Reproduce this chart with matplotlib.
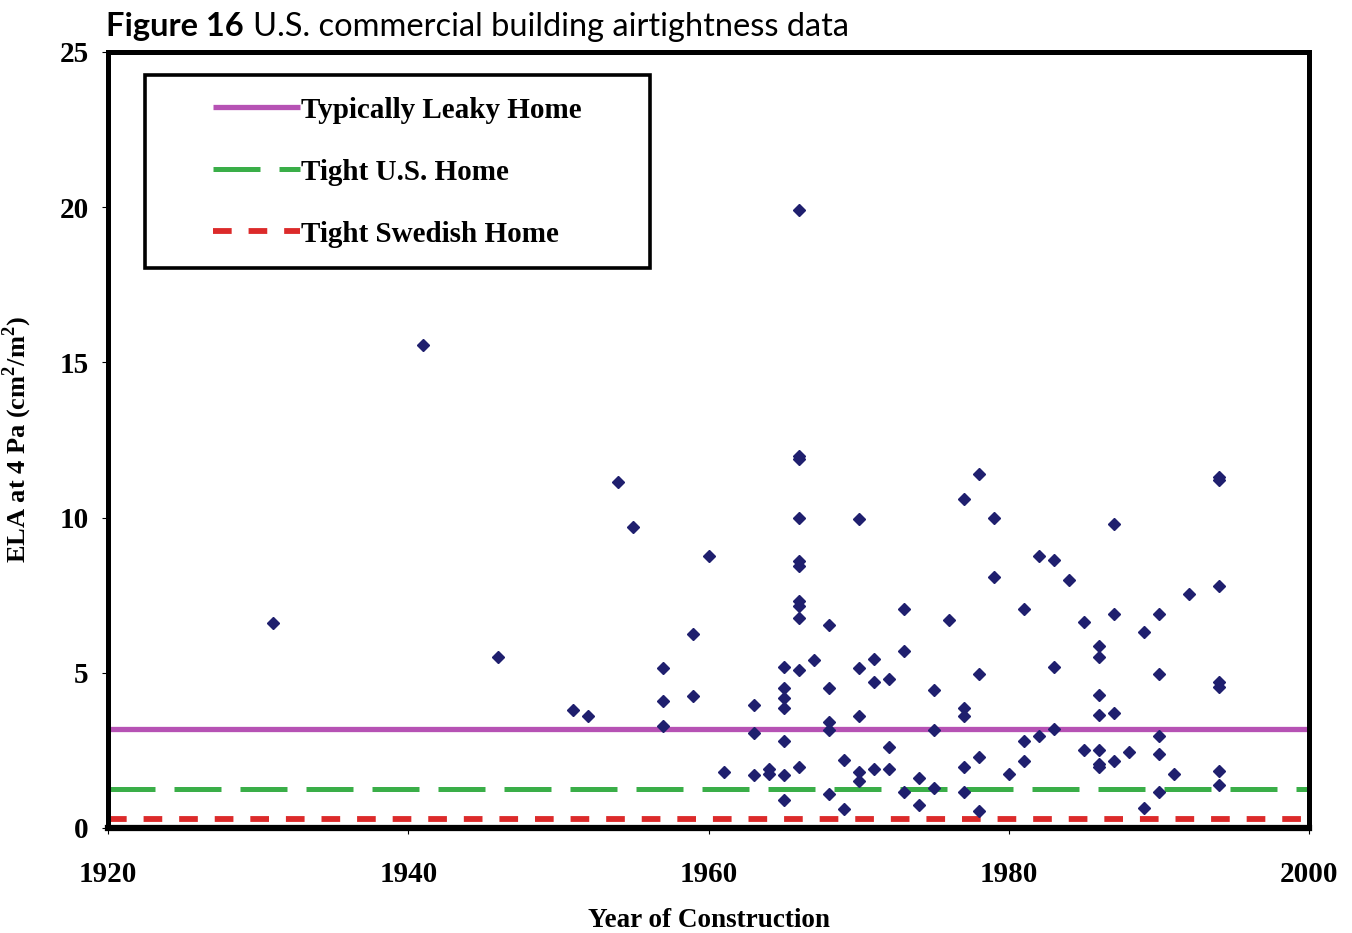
import matplotlib
matplotlib.use('Agg')
import matplotlib.pyplot as plt
from matplotlib.patches import Rectangle

# measured buildings (year of construction, ELA at 4 Pa in cm2/m2)
year = [1931, 1941, 1946, 1951, 1952, 1954, 1955,
        1957, 1957, 1957, 1959, 1959, 1960, 1961,
        1963, 1963, 1963, 1964, 1964,
        1965, 1965, 1965, 1965, 1965, 1965, 1965,
        1966, 1966, 1966, 1966, 1966, 1966, 1966, 1966, 1966, 1966, 1966,
        1967, 1968, 1968, 1968, 1968, 1968, 1969, 1969,
        1970, 1970, 1970, 1970, 1970, 1971, 1971, 1971,
        1972, 1972, 1972, 1973, 1973, 1973, 1974, 1974,
        1975, 1975, 1975, 1976, 1977, 1977, 1977, 1977, 1977,
        1978, 1978, 1978, 1978, 1979, 1979, 1980,
        1981, 1981, 1981, 1982, 1982, 1983, 1983, 1983, 1984,
        1985, 1985, 1986, 1986, 1986, 1986, 1986, 1986, 1986,
        1987, 1987, 1987, 1987, 1988, 1989, 1989,
        1990, 1990, 1990, 1990, 1990, 1991, 1992,
        1994, 1994, 1994, 1994, 1994, 1994, 1994]
ela = [6.6, 15.55, 5.5, 3.8, 3.6, 11.15, 9.7,
       5.15, 4.1, 3.3, 6.25, 4.25, 8.75, 1.8,
       3.95, 3.05, 1.7, 1.9, 1.75,
       5.2, 4.5, 4.2, 3.85, 2.8, 1.7, 0.9,
       19.9, 12.0, 11.9, 10.0, 8.6, 8.45, 7.3, 7.15, 6.75, 5.1, 1.95,
       5.4, 6.55, 4.5, 3.4, 3.15, 1.1, 2.2, 0.6,
       9.95, 5.15, 3.6, 1.8, 1.5, 5.45, 4.7, 1.9,
       4.8, 2.6, 1.9, 7.05, 5.7, 1.15, 1.6, 0.75,
       4.45, 3.15, 1.3, 6.7, 10.6, 3.85, 3.6, 1.95, 1.15,
       11.4, 4.95, 2.3, 0.55, 10.0, 8.1, 1.75,
       7.05, 2.8, 2.15, 8.75, 2.95, 8.65, 5.2, 3.2, 8.0,
       6.65, 2.5, 5.85, 5.5, 4.3, 3.65, 2.5, 2.05, 1.95,
       9.8, 6.9, 3.7, 2.15, 2.45, 6.3, 0.65,
       6.9, 4.95, 2.95, 2.4, 1.15, 1.75, 7.55,
       11.3, 11.2, 7.8, 4.7, 4.55, 1.85, 1.4]

ref_names = ['Typically Leaky Home', 'Tight U.S. Home', 'Tight Swedish Home']
ref_values = [3.2, 1.25, 0.3]
ref_colors = ['#b652b4', '#3aae48', '#dc2a2a']
ref_lw = [3.8, 3.6, 4.2]
ref_dashes = [None, (9.4, 3.8), (3.2, 2.9)]

xticks = [1920, 1940, 1960, 1980, 2000]
yticks = [0, 5, 10, 15, 20, 25]

serif = 'Liberation Serif'
plt.rcParams['mathtext.fontset'] = 'custom'
plt.rcParams['mathtext.rm'] = serif
plt.rcParams['mathtext.bf'] = serif + ':bold'

fig = plt.figure(figsize=(13.52, 9.33), dpi=100)
ax = fig.add_axes([108/1352, 1 - 828/933, (1309-108)/1352, (828-52)/933])

ax.plot(year, ela, linestyle='none', marker='D', markersize=6.6,
        color='#1f1f6e', zorder=3)

for v, c, w, d in zip(ref_values, ref_colors, ref_lw, ref_dashes):
    if d is None:
        ax.axhline(v, color=c, lw=w, solid_capstyle='butt', zorder=2)
    else:
        ax.axhline(v, color=c, lw=w, dashes=d, zorder=2)

ax.set_xlim(1920, 2000)
ax.set_ylim(0, 25)
ax.set_xticks(xticks)
ax.set_yticks(yticks)
for s in ax.spines.values():
    s.set_linewidth(3.6)
ax.spines['bottom'].set_linewidth(4.5)
ax.tick_params(direction='out', length=4, width=0.8, pad=10)
ax.tick_params(axis='x', pad=20)
for lab in ax.get_xticklabels() + ax.get_yticklabels():
    lab.set_fontfamily(serif)
    lab.set_fontweight('bold')
    lab.set_fontsize(21)

ax.set_xlabel('Year of Construction', fontfamily=serif, fontweight='bold',
              fontsize=19.5, labelpad=14)
ax.set_ylabel('ELA at 4 Pa (cm$^{\\mathbf{2}}$/m$^{\\mathbf{2}}$)', fontfamily=serif,
              fontweight='bold', fontsize=19, labelpad=18)

# legend box drawn by hand to match the spacing of the original
def px(x):
    return (x - 108) / 1201

def py(y):
    return (828 - y) / 776

ax.add_patch(Rectangle((px(145), py(268)), px(650) - px(145), py(75) - py(268),
                       transform=ax.transAxes, facecolor='white',
                       edgecolor='black', lw=2.6, zorder=5))
for i, (name, c, w, d) in enumerate(zip(ref_names, ref_colors, ref_lw, ref_dashes)):
    yy = py(107 + 62 * i)
    kw = dict(color=c, lw=w, transform=ax.transAxes, zorder=6, clip_on=False)
    if d is None:
        kw['solid_capstyle'] = 'butt'
    else:
        kw['dashes'] = d
    ax.plot([px(213), px(300)], [yy, yy], **kw)
    ax.text(px(301), py(110 + 62 * i), name, transform=ax.transAxes,
            va='center', ha='left', fontfamily=serif, fontweight='bold',
            fontsize=21, zorder=7)

t1 = fig.text(106/1352, 1 - 36/933, 'Figure 16', fontfamily='Lato',
              fontweight='bold', fontsize=23.5, va='baseline')
fig.canvas.draw()
bb = t1.get_window_extent()
fig.text((bb.x1 + 9)/1352, 1 - 36/933, 'U.S. commercial building airtightness data',
         fontfamily='Lato', fontsize=23.5, va='baseline')

fig.savefig('out.png', dpi=100)
